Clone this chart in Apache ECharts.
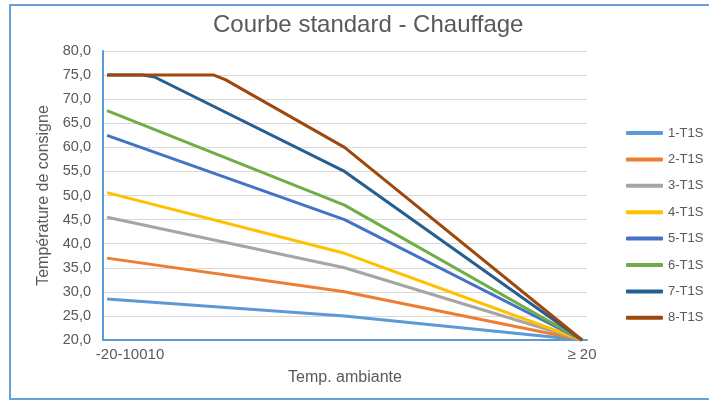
<!DOCTYPE html>
<html>
<head>
<meta charset="utf-8">
<script src="https://cdn.jsdelivr.net/npm/echarts@6/dist/echarts.min.js"></script>
<style>
  html, body { margin: 0; padding: 0; background: #ffffff; }
  #chart { width: 709px; height: 401px; }
</style>
</head>
<body>
<div id="chart"></div>
<script>
// Heating curves: setpoint temperature vs outdoor temperature, [outdoor, setpoint]
const seriesNames = ['1-T1S', '2-T1S', '3-T1S', '4-T1S', '5-T1S', '6-T1S', '7-T1S', '8-T1S'];
const curve1 = [[-20, 28.5], [0, 25], [20, 20]];
const curve2 = [[-20, 37], [0, 30], [20, 20]];
const curve3 = [[-20, 45.5], [0, 35], [20, 20]];
const curve4 = [[-20, 50.6], [0, 38], [20, 20]];
const curve5 = [[-20, 62.5], [0, 45], [20, 20]];
const curve6 = [[-20, 67.6], [0, 48], [20, 20]];
const curve7 = [[-20, 75], [-17, 75], [-16, 74.6], [0, 55], [20, 20]];
const curve8 = [[-20, 75], [-11, 75], [-10, 74], [0, 60], [20, 20]];
const curves = [curve1, curve2, curve3, curve4, curve5, curve6, curve7, curve8];

const xTickValues = [-20, 20];
const xTickLabels = ['-20-10010', '\u2265 20'];

const palette = ['#5B9BD5', '#ED7D31', '#A5A5A5', '#FFC000', '#4472C4', '#70AD47', '#255E91', '#9E480E'];
const FONT = '"Liberation Sans", Arial, sans-serif';
const GREY = '#595959';

const chart = echarts.init(document.getElementById('chart'), null, { renderer: 'canvas' });

chart.setOption({
  backgroundColor: '#ffffff',
  animation: false,
  color: palette,
  graphic: [{
    type: 'rect',
    shape: { x: 10, y: 5, width: 720, height: 394 },
    style: { fill: 'none', stroke: '#6A9FD6', lineWidth: 2 },
    silent: true,
    z: -1
  }],
  title: {
    text: 'Courbe standard - Chauffage',
    left: 208,
    top: 8,
    textStyle: { fontFamily: FONT, fontSize: 24, fontWeight: 'normal', color: GREY }
  },
  legend: {
    orient: 'vertical',
    left: 621,
    top: 121,
    icon: 'roundRect',
    itemWidth: 37,
    itemHeight: 4,
    itemGap: 12.4,
    textStyle: { fontFamily: FONT, fontSize: 13, color: GREY, lineHeight: 14 },
    data: seriesNames
  },
  grid: { left: 103, right: 122, top: 51, bottom: 61, containLabel: false },
  xAxis: {
    type: 'value',
    min: -20.34,
    max: 20.42,
    name: 'Temp. ambiante',
    nameLocation: 'middle',
    nameGap: 30,
    nameTextStyle: { fontFamily: FONT, fontSize: 16, color: GREY },
    axisLine: { show: true, onZero: false, lineStyle: { color: '#5B9BD5', width: 2 } },
    axisTick: { show: false },
    splitLine: { show: false },
    axisLabel: {
      customValues: xTickValues,
      margin: 7,
      fontFamily: FONT,
      fontSize: 15,
      color: GREY,
      formatter: function (v) {
        const i = xTickValues.indexOf(v);
        if (i === 0) return '{first|' + xTickLabels[0] + '}';
        return i > 0 ? xTickLabels[i] : '';
      },
      rich: {
        first: { fontFamily: FONT, fontSize: 15, color: GREY, padding: [0, 0, 0, 46] }
      }
    }
  },
  yAxis: {
    type: 'value',
    min: 20,
    max: 80,
    interval: 5,
    name: 'Température de consigne',
    nameLocation: 'middle',
    nameGap: 50,
    nameTextStyle: { fontFamily: FONT, fontSize: 16, color: GREY },
    axisLine: { show: true, onZero: false, lineStyle: { color: '#5B9BD5', width: 2 } },
    axisTick: { show: false },
    splitLine: { show: true, lineStyle: { color: '#D9D9D9', width: 1 } },
    axisLabel: {
      margin: 12,
      fontFamily: FONT,
      fontSize: 14.5,
      color: GREY,
      formatter: function (v) { return v.toFixed(1).replace('.', ','); }
    }
  },
  series: curves.map(function (data, i) {
    return {
      name: seriesNames[i],
      type: 'line',
      data: data,
      symbol: 'none',
      lineStyle: { width: 3, color: palette[i] },
      itemStyle: { color: palette[i] }
    };
  })
});
</script>
</body>
</html>
